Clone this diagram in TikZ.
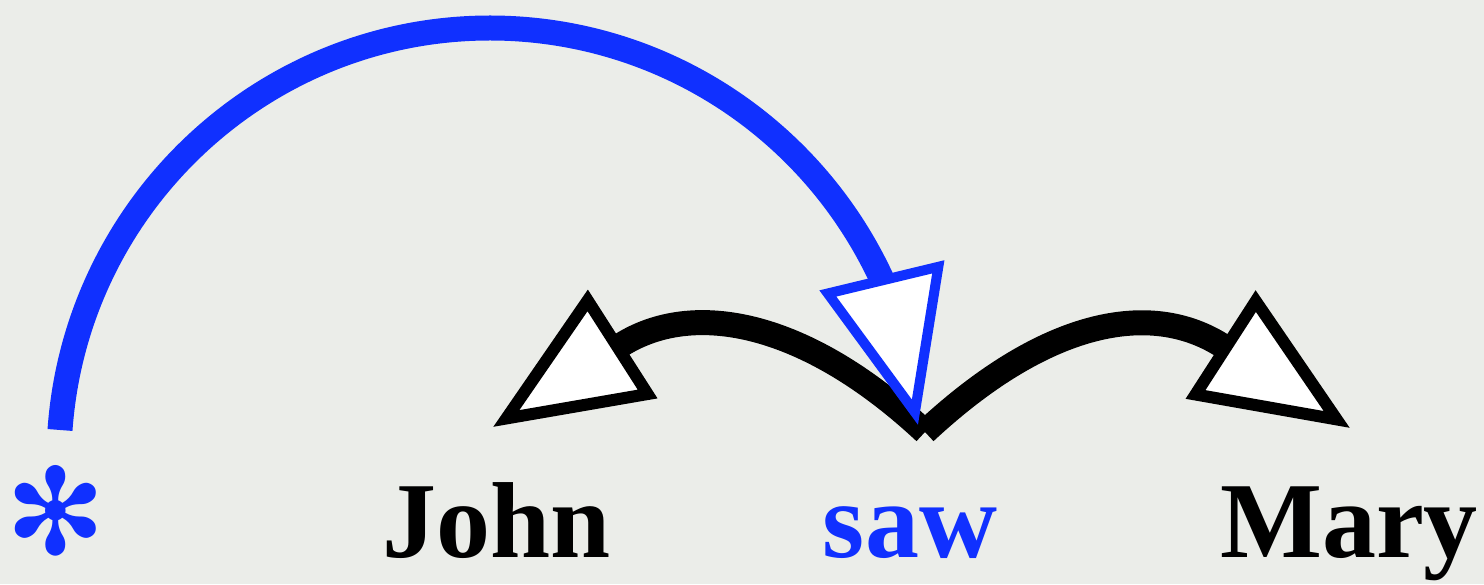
\documentclass[tikz,border=0pt]{standalone}
\usepackage{fontspec}
\setmainfont{Liberation Serif}
\newfontfamily\dingfont{DejaVu Sans}
\usetikzlibrary{arrows.meta}
\definecolor{depblue}{RGB}{16,48,255}
\definecolor{slide}{RGB}{235,237,233}

\begin{document}
\begin{tikzpicture}[x=0.5pt, y=0.5pt,
    every node/.style={font=\fontsize{54}{60}\selectfont\bfseries, inner sep=0pt},
    word/.style={anchor=base, text=black},
    headword/.style={anchor=base, text=depblue},
    deparc/.style={draw=black, line width=12.5pt,
        -{Triangle[length=77pt, width=63pt, fill=white, line width=6pt]}},
    rootarc/.style={draw=depblue, line width=12.5pt,
        -{Triangle[length=77pt, width=63pt, fill=white, line width=5pt]}}
]
\fill[slide] (0,0) rectangle (1484,584);
\useasboundingbox (0,0) rectangle (1484,584);

% words
\node[headword, font=\fontsize{60}{60}\selectfont\dingfont] (root) at (56,29) {✻};
\node[word]     (john) at (497,26)  {John};
\node[headword] (saw)  at (910,26)  {saw};
\node[word]     (mary) at (1349,26) {Mary};

% arc ends
\coordinate (rootfoot) at (60,154);
\coordinate (sawfoot)  at (925,152);
\coordinate (sawtip)   at (918,159);
\coordinate (johntip)  at (493,157);
\coordinate (marytip)  at (1350,156);

% dependencies
\draw[deparc] (sawfoot) .. controls (806,263) and (693,285) .. (johntip);
\draw[deparc] (sawfoot) .. controls (1044,263) and (1150,285) .. (marytip);
\draw[rootarc] (rootfoot) .. controls (76,380) and (264,556) .. (490,556)
    .. controls (660,556) and (814,456) .. (884,300) -- (sawtip);
\end{tikzpicture}
\end{document}
